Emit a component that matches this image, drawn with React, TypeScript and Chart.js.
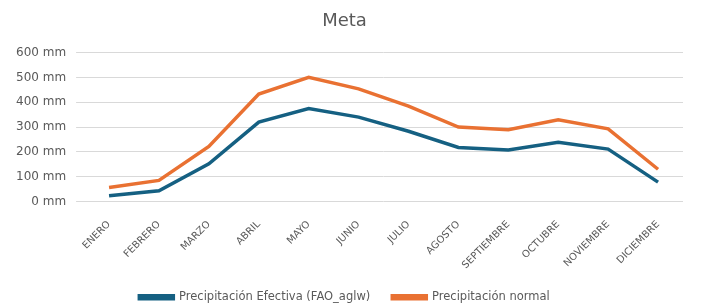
import React, { useEffect, useRef } from "react";
import { Chart, registerables } from "chart.js";

Chart.register(...registerables);

const months = ["ENERO", "FEBRERO", "MARZO", "ABRIL", "MAYO", "JUNIO", "JULIO", "AGOSTO", "SEPTIEMBRE", "OCTUBRE", "NOVIEMBRE", "DICIEMBRE"];
const efectiva = [23, 43, 152, 320, 375, 340, 283, 218, 208, 239, 211, 78];
const normal = [56, 85, 222, 433, 500, 454, 384, 300, 289, 329, 293, 130];
const titleText = "Meta";
const seriesNames = ["Precipitación Efectiva (FAO_aglw)", "Precipitación normal"];

export default function App() {
  const ref = useRef<HTMLCanvasElement>(null);
  useEffect(() => {
    if (!ref.current) return;
    const font = "'DejaVu Sans', sans-serif";
    const chart = new Chart(ref.current, {
      type: "line",
      data: {
        labels: months,
        datasets: [
          { label: seriesNames[0], data: efectiva, borderColor: "#156082", backgroundColor: "#156082", borderWidth: 3.5, pointRadius: 0, tension: 0 },
          { label: seriesNames[1], data: normal, borderColor: "#E97132", backgroundColor: "#E97132", borderWidth: 3.5, pointRadius: 0, tension: 0 },
        ],
      },
      options: {
        animation: false,
        responsive: false,
        maintainAspectRatio: false,
        layout: { padding: { left: 6, right: 30, top: 6, bottom: -8 } },
        plugins: {
          title: { display: true, text: titleText, color: "#595959", font: { family: font, size: 18, weight: "normal" }, padding: { top: 5, bottom: 20 } },
          legend: {
            position: "bottom",
            labels: { color: "#595959", font: { family: font, size: 11.5 }, boxWidth: 34, boxHeight: 3, padding: 22 },
          },
          tooltip: { enabled: false },
        },
        scales: {
          x: {
            offset: true,
            grid: { display: false },
            border: { display: false },
            ticks: { color: "#595959", font: { family: font, size: 10 }, maxRotation: 45, minRotation: 45, padding: 9 },
            afterFit: (scale: any) => { scale.height = 68; },
          },
          y: {
            min: 0,
            max: 600,
            grid: { color: "#d9d9d9", lineWidth: 1 },
            border: { display: false },
            ticks: { stepSize: 100, color: "#595959", font: { family: font, size: 12 }, padding: 10, callback: (v: any) => `${v} mm` },
          },
        },
      },
    });
    return () => chart.destroy();
  }, []);
  return (
    <div style={{ position: "fixed", left: 0, top: 0, width: 713, height: 305, background: "#fff" }}>
      <canvas ref={ref} width={713} height={305} />
    </div>
  );
}
